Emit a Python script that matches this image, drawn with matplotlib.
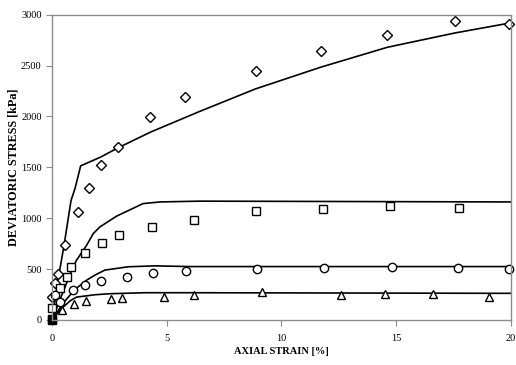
#!/usr/bin/env python3
"""Deviatoric stress vs axial strain: test points and model curves."""

import matplotlib

matplotlib.use("Agg")
import matplotlib.pyplot as plt

# measured points (strain %, stress kPa)
dia_x = [0.01, 0.13, 0.27, 0.57, 1.12, 1.6, 2.12, 2.86, 4.29, 5.81, 8.87, 11.71, 14.62, 17.55, 19.91]
dia_y = [228, 360, 450, 733, 1062, 1300, 1520, 1700, 1994, 2190, 2450, 2647, 2804, 2934, 2908]

sq_x = [0.0, 0.0, 0.35, 0.64, 0.83, 1.43, 2.16, 2.9, 4.38, 6.19, 8.87, 11.81, 14.74, 17.74]
sq_y = [7, 115, 315, 425, 523, 657, 752, 837, 915, 980, 1069, 1088, 1118, 1098]

circ_x = [0.13, 0.35, 0.9, 1.43, 2.14, 3.25, 4.41, 5.86, 8.93, 11.84, 14.8, 17.7, 19.91]
circ_y = [250, 180, 295, 348, 380, 423, 457, 477, 506, 513, 523, 513, 506]

tri_x = [0.42, 0.97, 1.47, 2.57, 3.03, 4.87, 6.17, 9.16, 12.6, 14.52, 16.62, 19.04]
tri_y = [98, 160, 185, 209, 215, 225, 241, 271, 245, 255, 255, 222]

# model curves
dia_fit_x = [0, 0.25, 0.52, 0.83, 1.0, 1.25, 2.12, 2.86, 4.29, 6.43, 8.87, 11.71, 14.62, 17.55, 20]
dia_fit_y = [0, 380, 728, 1176, 1290, 1515, 1601, 1690, 1846, 2049, 2271, 2484, 2680, 2820, 2920]

sq_fit_x = [0, 0.4, 0.86, 1.07, 1.51, 1.8, 2.09, 2.81, 3.97, 4.7, 6.43, 20]
sq_fit_y = [0, 230, 490, 588, 735, 850, 915, 1020, 1144, 1160, 1168, 1160]

circ_fit_x = [0, 0.5, 1.0, 1.5, 1.87, 2.3, 3.32, 4.48, 6.0, 20]
circ_fit_y = [0, 170, 300, 390, 441, 490, 523, 532, 525, 525]

tri_fit_x = [0, 0.4, 0.8, 1.07, 1.87, 2.5, 4.04, 6.0, 20]
tri_fit_y = [0, 110, 190, 225, 248, 258, 268, 268, 262]

plt.rcParams["font.family"] = ["Liberation Serif", "DejaVu Serif"]

fig = plt.figure(figsize=(5.16, 3.65), dpi=100)
ax = fig.add_axes([0.1008, 0.1233, 0.8892, 0.8364])

line_kw = dict(color="black", lw=1.2)
for fx, fy in [(dia_fit_x, dia_fit_y), (sq_fit_x, sq_fit_y),
               (circ_fit_x, circ_fit_y), (tri_fit_x, tri_fit_y)]:
    ax.plot(fx, fy, **line_kw)

mk_kw = dict(ls="none", mfc="white", mec="black", mew=1.0, clip_on=False)
ax.plot(dia_x, dia_y, marker="D", ms=5, **mk_kw)
ax.plot(sq_x, sq_y, marker="s", ms=6, **mk_kw)
ax.plot(circ_x, circ_y, marker="o", ms=6, **mk_kw)
ax.plot(tri_x, tri_y, marker="^", ms=6, **mk_kw)
# filled marker where the series meet at the origin
ax.plot([0], [0], marker="s", ms=5.5, color="black", ls="none", clip_on=False)

ax.set_xlim(0, 20)
ax.set_ylim(0, 3000)
ax.set_xticks([0, 5, 10, 15, 20])
ax.set_yticks(range(0, 3001, 500))

for s in ax.spines.values():
    s.set_color("#8c8c8c")
    s.set_linewidth(1.0)
ax.tick_params(direction="out", length=4, width=0.8, color="#8c8c8c",
               labelsize=7.5, labelcolor="black")
ax.tick_params(axis="x", pad=6)

ax.set_xlabel("AXIAL STRAIN [%]", fontsize=7.5, fontweight="bold", labelpad=3)
ax.set_ylabel("DEVIATORIC STRESS [kPa]", fontsize=8.7, fontweight="bold", labelpad=1)

fig.savefig("out.png", dpi=100)
